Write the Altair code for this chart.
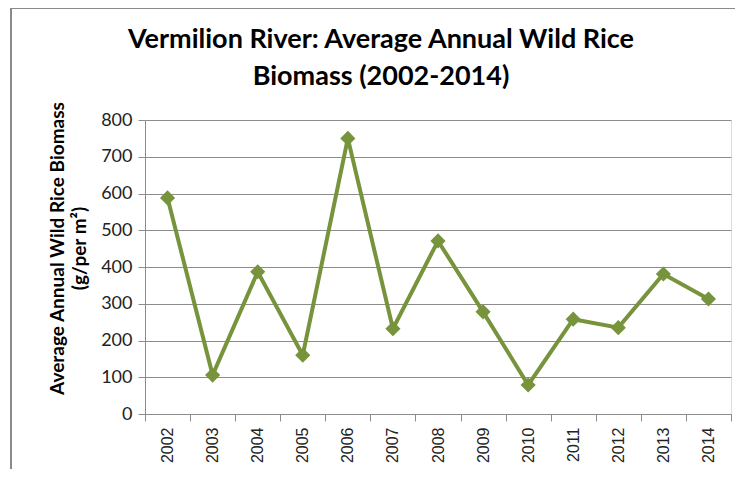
import altair as alt
import pandas as pd

years = ["2002", "2003", "2004", "2005", "2006", "2007", "2008",
         "2009", "2010", "2011", "2012", "2013", "2014"]
biomass = [588, 106, 387, 160, 750, 232, 471, 278, 79, 258, 235, 381, 313]

df = pd.DataFrame({"Year": years, "Biomass": biomass})

GREEN = "#77933C"
GRID = "#8c8c8c"

x = alt.X("Year:O", sort=years, title=None,
          scale=alt.Scale(paddingInner=0, paddingOuter=0),
          axis=alt.Axis(labelAngle=270, labelAlign="right", labelBaseline="middle",
                        labelFont="Liberation Sans", labelFontSize=16, labelColor="#222222",
                        labelPadding=6, tickBand="extent", tickSize=7, tickColor=GRID,
                        domainColor=GRID, grid=False))
y = alt.Y("Biomass:Q",
          scale=alt.Scale(domain=[0, 800]),
          axis=alt.Axis(values=list(range(0, 801, 100)), tickCount=9,
                        title=["Average Annual Wild Rice Biomass", "(g/per m²)"],
                        titleFont="Lato", titleFontSize=19, titleFontWeight="bold",
                        titleColor="#000000", titleAngle=270, titleX=-88, titleY=128,
                        titleAlign="center", titleBaseline="middle", titleLineHeight=22,
                        labelFont="Lato", labelFontSize=18, labelColor="#222222",
                        labelPadding=6, tickSize=7, tickColor=GRID, domainColor=GRID,
                        gridColor=GRID, gridWidth=1))

line = alt.Chart(df).mark_line(color=GREEN, strokeWidth=4).encode(x=x, y=y)
pts = alt.Chart(df).mark_point(shape="diamond", filled=True, size=230, color=GREEN,
                               opacity=1).encode(x=x, y=y)

frame = alt.Chart(df).mark_rule(color="#8a8a8a", strokeWidth=2).encode(
    x=alt.value(-134), y=alt.value(-112), y2=alt.value(360))
frame_top = alt.Chart(df).mark_rule(color="#8a8a8a", strokeWidth=2).encode(
    x=alt.value(-134), x2=alt.value(600), y=alt.value(-112))

chart = alt.layer(frame, frame_top, line, pts).properties(
    width=586, height=294,
    autosize=alt.AutoSizeParams(type="none"),
    padding={"left": 137, "top": 112, "right": 4, "bottom": 55},
    title=alt.TitleParams(
        text=["Vermilion River: Average Annual Wild Rice", "Biomass (2002-2014)"],
        font="Lato", fontSize=27, fontWeight="bold", color="#000000",
        anchor="middle", dx=-57, offset=0, dy=84, lineHeight=37),
).configure_view(stroke=None).configure(background="white")

chart.save("out.html", embed_options={"renderer": "svg", "actions": False})
